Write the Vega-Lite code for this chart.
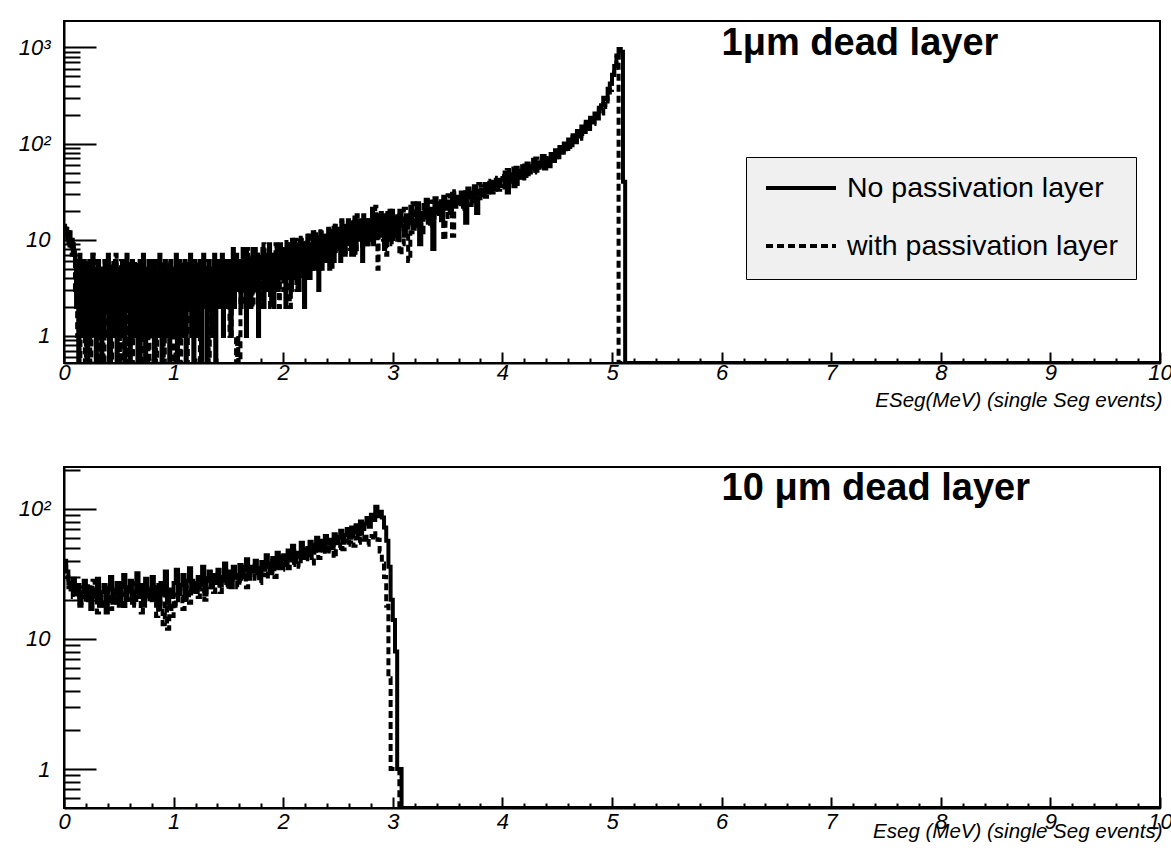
{
  "$schema": "https://vega.github.io/schema/vega-lite/v6.json",
  "autosize": {"type": "pad"},
  "padding": {"left": 17, "top": 20, "right": 0, "bottom": 0},
  "background": "white",
  "bounds": "flush",
  "spacing": 104,
  "config": {
    "font": "Liberation Sans",
    "view": {"stroke": "black", "strokeWidth": 2},
    "axis": {
      "grid": false,
      "domainColor": "black",
      "domainWidth": 2,
      "tickColor": "black",
      "tickWidth": 2,
      "labelColor": "black",
      "labelFont": "Liberation Sans",
      "labelFontSize": 22,
      "labelFontStyle": "italic",
      "labelFlush": false,
      "labelOverlap": false,
      "labelBound": false,
      "titleColor": "black",
      "titleFont": "Liberation Sans",
      "titleFontSize": 20.5,
      "titleFontStyle": "italic",
      "titleFontWeight": "normal"
    }
  },
  "datasets": {
    "thin": [
      {"e":0.005,"bare":14,"pass":12},{"e":0.015,"bare":12,"pass":13},{"e":0.025,"bare":13,"pass":11},{"e":0.035,"bare":11,"pass":9},{"e":0.045,"bare":10,"pass":12},{"e":0.055,"bare":12,"pass":8},{"e":0.065,"bare":9,"pass":10},{"e":0.075,"bare":10,"pass":7},{"e":0.085,"bare":8,"pass":9},{"e":0.095,"bare":7,"pass":8},
      {"e":0.105,"bare":6,"pass":3},{"e":0.115,"bare":2,"pass":6},{"e":0.125,"bare":5,"pass":1},{"e":0.135,"bare":0,"pass":4},{"e":0.145,"bare":7,"pass":0},{"e":0.155,"bare":3,"pass":5},{"e":0.165,"bare":4,"pass":2},{"e":0.175,"bare":1,"pass":6},{"e":0.185,"bare":6,"pass":3},{"e":0.195,"bare":2,"pass":0},
      {"e":0.205,"bare":5,"pass":4},{"e":0.215,"bare":0,"pass":6},{"e":0.225,"bare":3,"pass":2},{"e":0.235,"bare":6,"pass":5},{"e":0.245,"bare":1,"pass":0},{"e":0.255,"bare":4,"pass":3},{"e":0.265,"bare":7,"pass":7},{"e":0.275,"bare":2,"pass":1},{"e":0.285,"bare":5,"pass":4},{"e":0.295,"bare":0,"pass":2},
      {"e":0.305,"bare":3,"pass":6},{"e":0.315,"bare":6,"pass":0},{"e":0.325,"bare":2,"pass":4},{"e":0.335,"bare":4,"pass":1},{"e":0.345,"bare":0,"pass":5},{"e":0.355,"bare":5,"pass":3},{"e":0.365,"bare":1,"pass":0},{"e":0.375,"bare":6,"pass":6},{"e":0.385,"bare":3,"pass":2},{"e":0.395,"bare":2,"pass":4},
      {"e":0.405,"bare":7,"pass":1},{"e":0.415,"bare":0,"pass":5},{"e":0.425,"bare":4,"pass":3},{"e":0.435,"bare":2,"pass":0},{"e":0.445,"bare":5,"pass":6},{"e":0.455,"bare":1,"pass":2},{"e":0.465,"bare":3,"pass":4},{"e":0.475,"bare":6,"pass":7},{"e":0.485,"bare":0,"pass":1},{"e":0.495,"bare":4,"pass":3},
      {"e":0.505,"bare":2,"pass":5},{"e":0.515,"bare":5,"pass":0},{"e":0.525,"bare":1,"pass":6},{"e":0.535,"bare":6,"pass":2},{"e":0.545,"bare":3,"pass":4},{"e":0.555,"bare":0,"pass":1},{"e":0.565,"bare":4,"pass":5},{"e":0.575,"bare":7,"pass":3},{"e":0.585,"bare":2,"pass":0},{"e":0.595,"bare":5,"pass":6},
      {"e":0.605,"bare":0,"pass":4},{"e":0.615,"bare":3,"pass":2},{"e":0.625,"bare":6,"pass":0},{"e":0.635,"bare":1,"pass":5},{"e":0.645,"bare":4,"pass":3},{"e":0.655,"bare":2,"pass":6},{"e":0.665,"bare":5,"pass":1},{"e":0.675,"bare":0,"pass":4},{"e":0.685,"bare":3,"pass":2},{"e":0.695,"bare":6,"pass":5},
      {"e":0.705,"bare":1,"pass":0},{"e":0.715,"bare":4,"pass":6},{"e":0.725,"bare":7,"pass":3},{"e":0.735,"bare":2,"pass":1},{"e":0.745,"bare":0,"pass":5},{"e":0.755,"bare":5,"pass":2},{"e":0.765,"bare":3,"pass":4},{"e":0.775,"bare":6,"pass":0},{"e":0.785,"bare":1,"pass":6},{"e":0.795,"bare":4,"pass":3},
      {"e":0.805,"bare":2,"pass":5},{"e":0.815,"bare":6,"pass":1},{"e":0.825,"bare":0,"pass":4},{"e":0.835,"bare":3,"pass":6},{"e":0.845,"bare":5,"pass":0},{"e":0.855,"bare":1,"pass":3},{"e":0.865,"bare":4,"pass":5},{"e":0.875,"bare":7,"pass":2},{"e":0.885,"bare":2,"pass":4},{"e":0.895,"bare":0,"pass":1},
      {"e":0.905,"bare":5,"pass":6},{"e":0.915,"bare":3,"pass":0},{"e":0.925,"bare":6,"pass":3},{"e":0.935,"bare":1,"pass":5},{"e":0.945,"bare":4,"pass":2},{"e":0.955,"bare":2,"pass":4},{"e":0.965,"bare":0,"pass":6},{"e":0.975,"bare":6,"pass":1},{"e":0.985,"bare":3,"pass":3},{"e":0.995,"bare":5,"pass":0},
      {"e":1.005,"bare":1,"pass":5},{"e":1.015,"bare":4,"pass":2},{"e":1.025,"bare":7,"pass":4},{"e":1.035,"bare":0,"pass":6},{"e":1.045,"bare":3,"pass":1},{"e":1.055,"bare":6,"pass":3},{"e":1.065,"bare":2,"pass":0},{"e":1.075,"bare":5,"pass":5},{"e":1.085,"bare":1,"pass":2},{"e":1.095,"bare":4,"pass":6},
      {"e":1.105,"bare":6,"pass":3},{"e":1.115,"bare":0,"pass":5},{"e":1.125,"bare":3,"pass":0},{"e":1.135,"bare":5,"pass":4},{"e":1.145,"bare":2,"pass":6},{"e":1.155,"bare":7,"pass":2},{"e":1.165,"bare":1,"pass":3},{"e":1.175,"bare":4,"pass":1},{"e":1.185,"bare":0,"pass":5},{"e":1.195,"bare":6,"pass":4},
      {"e":1.205,"bare":3,"pass":6},{"e":1.215,"bare":5,"pass":1},{"e":1.225,"bare":1,"pass":3},{"e":1.235,"bare":4,"pass":5},{"e":1.245,"bare":6,"pass":0},{"e":1.255,"bare":0,"pass":4},{"e":1.265,"bare":2,"pass":2},{"e":1.275,"bare":7,"pass":6},{"e":1.285,"bare":3,"pass":3},{"e":1.295,"bare":5,"pass":5},
      {"e":1.305,"bare":0,"pass":2},{"e":1.315,"bare":4,"pass":6},{"e":1.325,"bare":6,"pass":0},{"e":1.335,"bare":2,"pass":4},{"e":1.345,"bare":5,"pass":3},{"e":1.355,"bare":1,"pass":5},{"e":1.365,"bare":3,"pass":1},{"e":1.375,"bare":7,"pass":6},{"e":1.385,"bare":0,"pass":4},{"e":1.395,"bare":4,"pass":2},
      {"e":1.405,"bare":6,"pass":5},{"e":1.415,"bare":2,"pass":3},{"e":1.425,"bare":5,"pass":4},{"e":1.435,"bare":3,"pass":3},{"e":1.445,"bare":7,"pass":3},{"e":1.455,"bare":1,"pass":2},{"e":1.465,"bare":4,"pass":3},{"e":1.475,"bare":6,"pass":2},{"e":1.485,"bare":2,"pass":2},{"e":1.495,"bare":5,"pass":2},
      {"e":1.505,"bare":3,"pass":2},{"e":1.515,"bare":6,"pass":1},{"e":1.525,"bare":1,"pass":2},{"e":1.535,"bare":5,"pass":1},{"e":1.545,"bare":8,"pass":1},{"e":1.555,"bare":2,"pass":1},{"e":1.565,"bare":4,"pass":1},{"e":1.575,"bare":7,"pass":0},{"e":1.585,"bare":3,"pass":1},{"e":1.595,"bare":5,"pass":0},
      {"e":1.605,"bare":6,"pass":0},{"e":1.615,"bare":2,"pass":4},{"e":1.625,"bare":4,"pass":6},{"e":1.635,"bare":8,"pass":3},{"e":1.645,"bare":3,"pass":7},{"e":1.655,"bare":5,"pass":2},{"e":1.665,"bare":1,"pass":5},{"e":1.675,"bare":7,"pass":8},{"e":1.685,"bare":4,"pass":4},{"e":1.695,"bare":6,"pass":6},
      {"e":1.705,"bare":2,"pass":3},{"e":1.715,"bare":5,"pass":7},{"e":1.725,"bare":8,"pass":2},{"e":1.735,"bare":3,"pass":5},{"e":1.745,"bare":6,"pass":8},{"e":1.755,"bare":4,"pass":4},{"e":1.765,"bare":7,"pass":6},{"e":1.775,"bare":1,"pass":3},{"e":1.785,"bare":5,"pass":7},{"e":1.795,"bare":6,"pass":2},
      {"e":1.805,"bare":4,"pass":6},{"e":1.815,"bare":8,"pass":4},{"e":1.825,"bare":2,"pass":9},{"e":1.835,"bare":6,"pass":5},{"e":1.845,"bare":3,"pass":3},{"e":1.855,"bare":7,"pass":7},{"e":1.865,"bare":5,"pass":4},{"e":1.875,"bare":9,"pass":8},{"e":1.885,"bare":3,"pass":2},{"e":1.895,"bare":6,"pass":6},
      {"e":1.905,"bare":5,"pass":7},{"e":1.915,"bare":2,"pass":3},{"e":1.925,"bare":7,"pass":5},{"e":1.935,"bare":4,"pass":9},{"e":1.945,"bare":8,"pass":4},{"e":1.955,"bare":3,"pass":6},{"e":1.965,"bare":6,"pass":2},{"e":1.975,"bare":9,"pass":8},{"e":1.985,"bare":4,"pass":5},{"e":1.995,"bare":6,"pass":7},
      {"e":2.005,"bare":5,"pass":3},{"e":2.015,"bare":8,"pass":7},{"e":2.025,"bare":2,"pass":5},{"e":2.035,"bare":6,"pass":10},{"e":2.045,"bare":9,"pass":4},{"e":2.055,"bare":4,"pass":6},{"e":2.065,"bare":7,"pass":2},{"e":2.075,"bare":3,"pass":8},{"e":2.085,"bare":10,"pass":5},{"e":2.095,"bare":5,"pass":9},
      {"e":2.105,"bare":7,"pass":6},{"e":2.115,"bare":4,"pass":10},{"e":2.125,"bare":9,"pass":3},{"e":2.135,"bare":6,"pass":8},{"e":2.145,"bare":3,"pass":5},{"e":2.155,"bare":8,"pass":11},{"e":2.165,"bare":10,"pass":7},{"e":2.175,"bare":5,"pass":4},{"e":2.185,"bare":7,"pass":9},{"e":2.195,"bare":2,"pass":6},
      {"e":2.205,"bare":8,"pass":10},{"e":2.215,"bare":5,"pass":6},{"e":2.225,"bare":11,"pass":4},{"e":2.235,"bare":6,"pass":12},{"e":2.245,"bare":4,"pass":7},{"e":2.255,"bare":9,"pass":9},{"e":2.265,"bare":7,"pass":5},{"e":2.275,"bare":12,"pass":11},{"e":2.285,"bare":5,"pass":8},{"e":2.295,"bare":8,"pass":6},
      {"e":2.305,"bare":6,"pass":12},{"e":2.315,"bare":10,"pass":7},{"e":2.325,"bare":3,"pass":10},{"e":2.335,"bare":8,"pass":5},{"e":2.345,"bare":12,"pass":13},{"e":2.355,"bare":5,"pass":8},{"e":2.365,"bare":9,"pass":6},{"e":2.375,"bare":7,"pass":11},{"e":2.385,"bare":11,"pass":9},{"e":2.395,"bare":6,"pass":7},
      {"e":2.405,"bare":8,"pass":10},{"e":2.415,"bare":13,"pass":6},{"e":2.425,"bare":5,"pass":12},{"e":2.435,"bare":10,"pass":8},{"e":2.445,"bare":7,"pass":5},{"e":2.455,"bare":11,"pass":14},{"e":2.465,"bare":6,"pass":9},{"e":2.475,"bare":14,"pass":7},{"e":2.485,"bare":8,"pass":12},{"e":2.495,"bare":10,"pass":8},
      {"e":2.505,"bare":9,"pass":13},{"e":2.515,"bare":12,"pass":8},{"e":2.525,"bare":6,"pass":11},{"e":2.535,"bare":15,"pass":16},{"e":2.545,"bare":8,"pass":9},{"e":2.555,"bare":11,"pass":12},{"e":2.565,"bare":7,"pass":7},{"e":2.575,"bare":13,"pass":14},{"e":2.585,"bare":10,"pass":10},{"e":2.595,"bare":16,"pass":13},
      {"e":2.605,"bare":9,"pass":13},{"e":2.615,"bare":15,"pass":8},{"e":2.625,"bare":7,"pass":11},{"e":2.635,"bare":12,"pass":16},{"e":2.645,"bare":10,"pass":9},{"e":2.655,"bare":17,"pass":12},{"e":2.665,"bare":8,"pass":7},{"e":2.675,"bare":13,"pass":18},{"e":2.685,"bare":11,"pass":10},{"e":2.695,"bare":16,"pass":14},
      {"e":2.705,"bare":10,"pass":11},{"e":2.715,"bare":14,"pass":15},{"e":2.725,"bare":6,"pass":8},{"e":2.735,"bare":18,"pass":13},{"e":2.745,"bare":11,"pass":17},{"e":2.755,"bare":13,"pass":10},{"e":2.765,"bare":9,"pass":14},{"e":2.775,"bare":16,"pass":9},{"e":2.785,"bare":12,"pass":16},{"e":2.795,"bare":15,"pass":12},
      {"e":2.805,"bare":10,"pass":12},{"e":2.815,"bare":21,"pass":9},{"e":2.825,"bare":9,"pass":16},{"e":2.835,"bare":14,"pass":11},{"e":2.845,"bare":12,"pass":22},{"e":2.855,"bare":18,"pass":13},{"e":2.865,"bare":11,"pass":5},{"e":2.875,"bare":15,"pass":17},{"e":2.885,"bare":13,"pass":12},{"e":2.895,"bare":19,"pass":15},
      {"e":2.905,"bare":11,"pass":14},{"e":2.915,"bare":17,"pass":10},{"e":2.925,"bare":8,"pass":18},{"e":2.935,"bare":15,"pass":12},{"e":2.945,"bare":13,"pass":7},{"e":2.955,"bare":19,"pass":16},{"e":2.965,"bare":10,"pass":11},{"e":2.975,"bare":16,"pass":20},{"e":2.985,"bare":12,"pass":13},{"e":2.995,"bare":20,"pass":9},
      {"e":3.01,"bare":12,"pass":16},{"e":3.03,"bare":17,"pass":11},{"e":3.05,"bare":10,"pass":19},{"e":3.07,"bare":20,"pass":7},{"e":3.09,"bare":14,"pass":9},
      {"e":3.11,"bare":11,"pass":21},{"e":3.13,"bare":18,"pass":14},{"e":3.15,"bare":15,"pass":6},{"e":3.17,"bare":22,"pass":12},{"e":3.19,"bare":13,"pass":24},
      {"e":3.21,"bare":16,"pass":13},{"e":3.23,"bare":24,"pass":20},{"e":3.25,"bare":9,"pass":16},{"e":3.27,"bare":19,"pass":12},{"e":3.29,"bare":17,"pass":23},
      {"e":3.31,"bare":26,"pass":18},{"e":3.33,"bare":15,"pass":14},{"e":3.35,"bare":21,"pass":25},{"e":3.37,"bare":8,"pass":17},{"e":3.39,"bare":27,"pass":20},
      {"e":3.41,"bare":19,"pass":23},{"e":3.43,"bare":24,"pass":17},{"e":3.45,"bare":16,"pass":27},{"e":3.47,"bare":28,"pass":10},{"e":3.49,"bare":21,"pass":15},
      {"e":3.51,"bare":25,"pass":29},{"e":3.53,"bare":19,"pass":22},{"e":3.55,"bare":30,"pass":11},{"e":3.57,"bare":22,"pass":32},{"e":3.59,"bare":27,"pass":24},
      {"e":3.61,"bare":24,"pass":28},{"e":3.63,"bare":31,"pass":21},{"e":3.65,"bare":26,"pass":33},{"e":3.67,"bare":15,"pass":25},{"e":3.69,"bare":34,"pass":30},
      {"e":3.71,"bare":28,"pass":23},{"e":3.73,"bare":25,"pass":35},{"e":3.75,"bare":36,"pass":29},{"e":3.77,"bare":19,"pass":26},{"e":3.79,"bare":27,"pass":38},
      {"e":3.81,"bare":33,"pass":30},{"e":3.83,"bare":29,"pass":36},{"e":3.85,"bare":38,"pass":28},{"e":3.87,"bare":31,"pass":41},{"e":3.89,"bare":35,"pass":34},
      {"e":3.91,"bare":40,"pass":31},{"e":3.93,"bare":33,"pass":44},{"e":3.95,"bare":37,"pass":37},{"e":3.97,"bare":42,"pass":33},{"e":3.99,"bare":36,"pass":46},
      {"e":4.01,"bare":36,"pass":42},{"e":4.03,"bare":50,"pass":35},{"e":4.05,"bare":31,"pass":53},{"e":4.07,"bare":47,"pass":41},{"e":4.09,"bare":40,"pass":48},
      {"e":4.11,"bare":55,"pass":36},{"e":4.13,"bare":38,"pass":56},{"e":4.15,"bare":52,"pass":45},{"e":4.17,"bare":44,"pass":50},{"e":4.19,"bare":58,"pass":41},
      {"e":4.21,"bare":46,"pass":59},{"e":4.23,"bare":62,"pass":48},{"e":4.25,"bare":50,"pass":55},{"e":4.27,"bare":57,"pass":63},{"e":4.29,"bare":68,"pass":50},
      {"e":4.31,"bare":52,"pass":70},{"e":4.33,"bare":64,"pass":56},{"e":4.35,"bare":58,"pass":61},{"e":4.37,"bare":74,"pass":66},{"e":4.39,"bare":60,"pass":55},
      {"e":4.41,"bare":70,"pass":74},{"e":4.43,"bare":58,"pass":62},{"e":4.45,"bare":78,"pass":70},{"e":4.47,"bare":66,"pass":81},{"e":4.49,"bare":85,"pass":68},
      {"e":4.51,"bare":72,"pass":88},{"e":4.53,"bare":92,"pass":76},{"e":4.55,"bare":80,"pass":84},{"e":4.57,"bare":100,"pass":95},{"e":4.59,"bare":88,"pass":82},
      {"e":4.61,"bare":110,"pass":104},{"e":4.63,"bare":96,"pass":92},{"e":4.65,"bare":122,"pass":116},{"e":4.67,"bare":108,"pass":103},{"e":4.69,"bare":135,"pass":128},
      {"e":4.71,"bare":120,"pass":112},{"e":4.73,"bare":150,"pass":140},{"e":4.75,"bare":132,"pass":126},{"e":4.77,"bare":168,"pass":158},{"e":4.79,"bare":150,"pass":142},
      {"e":4.81,"bare":185,"pass":176},{"e":4.83,"bare":165,"pass":160},{"e":4.85,"bare":205,"pass":198},{"e":4.87,"bare":190,"pass":182},{"e":4.89,"bare":235,"pass":226},
      {"e":4.91,"bare":250,"pass":205},{"e":4.93,"bare":300,"pass":258},{"e":4.95,"bare":290,"pass":240},{"e":4.97,"bare":370,"pass":310},{"e":4.99,"bare":420,"pass":360},
      {"e":5.01,"bare":520,"pass":480},{"e":5.03,"bare":640,"pass":610},{"e":5.05,"bare":780,"pass":820},{"e":5.07,"bare":960,"pass":0},{"e":5.09,"bare":900,"pass":0},
      {"e":5.11,"bare":40,"pass":0},{"e":5.13,"bare":0,"pass":0},{"e":5.15,"bare":0,"pass":0},
      {"e":9.99,"bare":0,"pass":0}
    ],
    "thick": [
      {"e":0.01,"bare":40,"pass":36},{"e":0.03,"bare":33,"pass":30},{"e":0.05,"bare":27,"pass":25},{"e":0.07,"bare":24,"pass":28},{"e":0.09,"bare":29,"pass":21},
      {"e":0.11,"bare":22,"pass":26},{"e":0.13,"bare":26,"pass":23},{"e":0.15,"bare":19,"pass":18},{"e":0.17,"bare":23,"pass":25},{"e":0.19,"bare":28,"pass":21},
      {"e":0.21,"bare":20,"pass":27},{"e":0.23,"bare":25,"pass":19},{"e":0.25,"bare":17,"pass":23},{"e":0.27,"bare":24,"pass":28},{"e":0.29,"bare":21,"pass":20},
      {"e":0.31,"bare":29,"pass":16},{"e":0.33,"bare":18,"pass":24},{"e":0.35,"bare":23,"pass":21},{"e":0.37,"bare":26,"pass":18},{"e":0.39,"bare":16,"pass":26},
      {"e":0.41,"bare":24,"pass":21},{"e":0.43,"bare":30,"pass":17},{"e":0.45,"bare":19,"pass":26},{"e":0.47,"bare":22,"pass":23},{"e":0.49,"bare":27,"pass":19},
      {"e":0.51,"bare":18,"pass":28},{"e":0.53,"bare":25,"pass":22},{"e":0.55,"bare":31,"pass":17},{"e":0.57,"bare":20,"pass":25},{"e":0.59,"bare":24,"pass":20},
      {"e":0.61,"bare":28,"pass":23},{"e":0.63,"bare":19,"pass":27},{"e":0.65,"bare":23,"pass":18},{"e":0.67,"bare":32,"pass":25},{"e":0.69,"bare":21,"pass":21},
      {"e":0.71,"bare":26,"pass":16},{"e":0.73,"bare":18,"pass":27},{"e":0.75,"bare":29,"pass":20},{"e":0.77,"bare":24,"pass":23},{"e":0.79,"bare":22,"pass":19},
      {"e":0.81,"bare":30,"pass":25},{"e":0.83,"bare":20,"pass":22},{"e":0.85,"bare":25,"pass":15},{"e":0.87,"bare":17,"pass":26},{"e":0.89,"bare":27,"pass":18},
      {"e":0.91,"bare":22,"pass":13},{"e":0.93,"bare":33,"pass":21},{"e":0.95,"bare":19,"pass":12},{"e":0.97,"bare":24,"pass":19},{"e":0.99,"bare":21,"pass":15},
      {"e":1.01,"bare":27,"pass":22},{"e":1.03,"bare":34,"pass":18},{"e":1.05,"bare":22,"pass":26},{"e":1.07,"bare":26,"pass":21},{"e":1.09,"bare":31,"pass":17},
      {"e":1.11,"bare":20,"pass":25},{"e":1.13,"bare":28,"pass":23},{"e":1.15,"bare":35,"pass":19},{"e":1.17,"bare":24,"pass":28},{"e":1.19,"bare":27,"pass":22},
      {"e":1.21,"bare":23,"pass":26},{"e":1.23,"bare":30,"pass":21},{"e":1.25,"bare":26,"pass":29},{"e":1.27,"bare":36,"pass":24},{"e":1.29,"bare":22,"pass":20},
      {"e":1.31,"bare":29,"pass":31},{"e":1.33,"bare":33,"pass":25},{"e":1.35,"bare":25,"pass":28},{"e":1.37,"bare":31,"pass":23},{"e":1.39,"bare":27,"pass":32},
      {"e":1.41,"bare":34,"pass":27},{"e":1.43,"bare":26,"pass":23},{"e":1.45,"bare":30,"pass":31},{"e":1.47,"bare":38,"pass":26},{"e":1.49,"bare":28,"pass":35},
      {"e":1.51,"bare":33,"pass":24},{"e":1.53,"bare":25,"pass":29},{"e":1.55,"bare":36,"pass":33},{"e":1.57,"bare":31,"pass":27},{"e":1.59,"bare":29,"pass":25},
      {"e":1.61,"bare":37,"pass":31},{"e":1.63,"bare":30,"pass":28},{"e":1.65,"bare":34,"pass":36},{"e":1.67,"bare":41,"pass":25},{"e":1.69,"bare":29,"pass":33},
      {"e":1.71,"bare":36,"pass":30},{"e":1.73,"bare":33,"pass":38},{"e":1.75,"bare":40,"pass":29},{"e":1.77,"bare":35,"pass":34},{"e":1.79,"bare":31,"pass":27},
      {"e":1.81,"bare":39,"pass":35},{"e":1.83,"bare":34,"pass":31},{"e":1.85,"bare":44,"pass":29},{"e":1.87,"bare":36,"pass":38},{"e":1.89,"bare":32,"pass":33},
      {"e":1.91,"bare":42,"pass":40},{"e":1.93,"bare":38,"pass":30},{"e":1.95,"bare":46,"pass":36},{"e":1.97,"bare":35,"pass":43},{"e":1.99,"bare":41,"pass":34},
      {"e":2.01,"bare":44,"pass":38},{"e":2.03,"bare":37,"pass":45},{"e":2.05,"bare":48,"pass":35},{"e":2.07,"bare":41,"pass":41},{"e":2.09,"bare":52,"pass":37},
      {"e":2.11,"bare":39,"pass":49},{"e":2.13,"bare":46,"pass":40},{"e":2.15,"bare":43,"pass":36},{"e":2.17,"bare":55,"pass":46},{"e":2.19,"bare":42,"pass":43},
      {"e":2.21,"bare":49,"pass":41},{"e":2.23,"bare":45,"pass":50},{"e":2.25,"bare":56,"pass":44},{"e":2.27,"bare":47,"pass":38},{"e":2.29,"bare":53,"pass":52},
      {"e":2.31,"bare":60,"pass":46},{"e":2.33,"bare":48,"pass":42},{"e":2.35,"bare":55,"pass":57},{"e":2.37,"bare":51,"pass":48},{"e":2.39,"bare":62,"pass":45},
      {"e":2.41,"bare":54,"pass":53},{"e":2.43,"bare":58,"pass":47},{"e":2.45,"bare":50,"pass":58},{"e":2.47,"bare":64,"pass":42},{"e":2.49,"bare":57,"pass":55},
      {"e":2.51,"bare":61,"pass":50},{"e":2.53,"bare":68,"pass":60},{"e":2.55,"bare":55,"pass":49},{"e":2.57,"bare":63,"pass":57},{"e":2.59,"bare":70,"pass":53},
      {"e":2.61,"bare":60,"pass":56},{"e":2.63,"bare":72,"pass":63},{"e":2.65,"bare":66,"pass":52},{"e":2.67,"bare":75,"pass":60},{"e":2.69,"bare":64,"pass":55},
      {"e":2.71,"bare":80,"pass":67},{"e":2.73,"bare":70,"pass":58},{"e":2.75,"bare":77,"pass":64},{"e":2.77,"bare":85,"pass":53},{"e":2.79,"bare":73,"pass":62},
      {"e":2.81,"bare":90,"pass":62},{"e":2.83,"bare":82,"pass":58},{"e":2.85,"bare":104,"pass":65},{"e":2.87,"bare":88,"pass":58},{"e":2.89,"bare":95,"pass":47},
      {"e":2.91,"bare":86,"pass":38},{"e":2.93,"bare":72,"pass":30},{"e":2.95,"bare":57,"pass":18},{"e":2.97,"bare":36,"pass":5},{"e":2.99,"bare":20,"pass":1},
      {"e":3.01,"bare":14,"pass":1},{"e":3.03,"bare":8,"pass":1},{"e":3.05,"bare":1,"pass":1},{"e":3.07,"bare":1,"pass":0},{"e":3.09,"bare":0,"pass":0},
      {"e":9.99,"bare":0,"pass":0}
    ]
  },
  "vconcat": [
    {
      "width": 1096,
      "height": 342,
      "layer": [
        {
          "data": {"name": "thin"},
          "transform": [{"fold": ["bare", "pass"], "as": ["series", "n"]}],
          "mark": {"type": "line", "interpolate": "step", "strokeWidth": 4, "color": "black", "clip": true},
          "encoding": {
            "x": {
              "field": "e", "type": "quantitative",
              "scale": {"domain": [0, 10], "nice": false, "zero": false},
              "axis": {
                "values": [0,0.2,0.4,0.6,0.8,1,1.2,1.4,1.6,1.8,2,2.2,2.4,2.6,2.8,3,3.2,3.4,3.6,3.8,4,4.2,4.4,4.6,4.8,5,5.2,5.4,5.6,5.8,6,6.2,6.4,6.6,6.8,7,7.2,7.4,7.6,7.8,8,8.2,8.4,8.6,8.8,9,9.2,9.4,9.6,9.8,10],
                "labelExpr": "datum.value % 1 == 0 ? format(datum.value, 'd') : ''",
                "tickSize": {"condition": {"test": "datum.value % 1 == 0", "value": -11}, "value": -5},
                "labelPadding": 10,
                "labelBaseline": "top",
                "title": "ESeg(MeV) (single Seg events)",
                "titleAlign": "right",
                "titleBaseline": "alphabetic",
                "titleX": 1098,
                "titleY": 43
              }
            },
            "y": {
              "field": "n", "type": "quantitative",
              "scale": {"type": "log", "domain": [0.524, 1877], "nice": false, "clamp": true},
              "axis": {
                "values": [0.6,0.7,0.8,0.9,1,2,3,4,5,6,7,8,9,10,20,30,40,50,60,70,80,90,100,200,300,400,500,600,700,800,900,1000],
                "labelExpr": "datum.value == 1000 ? '10³' : datum.value == 100 ? '10²' : datum.value == 10 ? '10' : datum.value == 1 ? '1' : ''",
                "tickSize": {"condition": {"test": "indexof([1, 10, 100, 1000], datum.value) >= 0", "value": -32}, "value": -16},
                "labelPadding": 46,
                "labelBaseline": "middle",
                "title": null
              }
            },
            "strokeDash": {
              "field": "series", "type": "nominal",
              "scale": {"domain": ["bare", "pass"], "range": [[1, 0], [7, 4]]},
              "legend": {
                "title": null,
                "orient": "none",
                "legendX": 682,
                "legendY": 136,
                "labelExpr": "datum.label == 'bare' ? 'No passivation layer' : 'with passivation layer'",
                "symbolType": "stroke",
                "symbolSize": 4900,
                "symbolStrokeWidth": 4,
                "symbolStrokeColor": "black",
                "labelFont": "Liberation Sans",
                "labelFontSize": 28.5,
                "labelColor": "black",
                "labelLimit": 500,
                "labelOffset": 9,
                "padding": 18,
                "rowPadding": 29,
                "clipHeight": 26,
                "fillColor": "#f0f0f0",
                "strokeColor": "black"
              }
            }
          }
        },
        {
          "data": {"values": [{"label": "1μm dead layer"}]},
          "mark": {"type": "text", "align": "left", "baseline": "alphabetic", "font": "Liberation Sans", "fontSize": 38, "fontWeight": "bold", "color": "black"},
          "encoding": {
            "x": {
              "datum": 6, "type": "quantitative",
              "axis": {
                "values": [0,0.2,0.4,0.6,0.8,1,1.2,1.4,1.6,1.8,2,2.2,2.4,2.6,2.8,3,3.2,3.4,3.6,3.8,4,4.2,4.4,4.6,4.8,5,5.2,5.4,5.6,5.8,6,6.2,6.4,6.6,6.8,7,7.2,7.4,7.6,7.8,8,8.2,8.4,8.6,8.8,9,9.2,9.4,9.6,9.8,10],
                "labelExpr": "datum.value % 1 == 0 ? format(datum.value, 'd') : ''",
                "tickSize": {"condition": {"test": "datum.value % 1 == 0", "value": -11}, "value": -5},
                "labelPadding": 10,
                "labelBaseline": "top",
                "title": "ESeg(MeV) (single Seg events)",
                "titleAlign": "right",
                "titleBaseline": "alphabetic",
                "titleX": 1098,
                "titleY": 43
              }
            },
            "y": {
              "datum": 832, "type": "quantitative",
              "axis": {
                "values": [0.6,0.7,0.8,0.9,1,2,3,4,5,6,7,8,9,10,20,30,40,50,60,70,80,90,100,200,300,400,500,600,700,800,900,1000],
                "labelExpr": "datum.value == 1000 ? '10³' : datum.value == 100 ? '10²' : datum.value == 10 ? '10' : datum.value == 1 ? '1' : ''",
                "tickSize": {"condition": {"test": "indexof([1, 10, 100, 1000], datum.value) >= 0", "value": -32}, "value": -16},
                "labelPadding": 46,
                "labelBaseline": "middle",
                "title": null
              }
            },
            "text": {"field": "label"}
          }
        }
      ]
    },
    {
      "width": 1096,
      "height": 341,
      "layer": [
        {
          "data": {"name": "thick"},
          "transform": [{"fold": ["bare", "pass"], "as": ["series", "n"]}],
          "mark": {"type": "line", "interpolate": "step", "strokeWidth": 4, "color": "black", "clip": true},
          "encoding": {
            "x": {
              "field": "e", "type": "quantitative",
              "scale": {"domain": [0, 10], "nice": false, "zero": false},
              "axis": {
                "values": [0,0.2,0.4,0.6,0.8,1,1.2,1.4,1.6,1.8,2,2.2,2.4,2.6,2.8,3,3.2,3.4,3.6,3.8,4,4.2,4.4,4.6,4.8,5,5.2,5.4,5.6,5.8,6,6.2,6.4,6.6,6.8,7,7.2,7.4,7.6,7.8,8,8.2,8.4,8.6,8.8,9,9.2,9.4,9.6,9.8,10],
                "labelExpr": "datum.value % 1 == 0 ? format(datum.value, 'd') : ''",
                "tickSize": {"condition": {"test": "datum.value % 1 == 0", "value": -11}, "value": -5},
                "labelPadding": 14,
                "labelBaseline": "top",
                "title": "Eseg (MeV) (single Seg events)",
                "titleAlign": "right",
                "titleBaseline": "alphabetic",
                "titleX": 1098,
                "titleY": 29
              }
            },
            "y": {
              "field": "n", "type": "quantitative",
              "scale": {"type": "log", "domain": [0.502, 210], "nice": false, "clamp": true},
              "axis": {
                "values": [0.6,0.7,0.8,0.9,1,2,3,4,5,6,7,8,9,10,20,30,40,50,60,70,80,90,100,200],
                "labelExpr": "datum.value == 100 ? '10²' : datum.value == 10 ? '10' : datum.value == 1 ? '1' : ''",
                "tickSize": {"condition": {"test": "indexof([1, 10, 100], datum.value) >= 0", "value": -32}, "value": -16},
                "labelPadding": 46,
                "labelBaseline": "middle",
                "title": null
              }
            },
            "strokeDash": {
              "field": "series", "type": "nominal",
              "scale": {"domain": ["bare", "pass"], "range": [[1, 0], [7, 4]]},
              "legend": null
            }
          }
        },
        {
          "data": {"values": [{"label": "10 μm dead layer"}]},
          "mark": {"type": "text", "align": "left", "baseline": "alphabetic", "font": "Liberation Sans", "fontSize": 38, "fontWeight": "bold", "color": "black"},
          "encoding": {
            "x": {
              "datum": 6, "type": "quantitative",
              "axis": {
                "values": [0,0.2,0.4,0.6,0.8,1,1.2,1.4,1.6,1.8,2,2.2,2.4,2.6,2.8,3,3.2,3.4,3.6,3.8,4,4.2,4.4,4.6,4.8,5,5.2,5.4,5.6,5.8,6,6.2,6.4,6.6,6.8,7,7.2,7.4,7.6,7.8,8,8.2,8.4,8.6,8.8,9,9.2,9.4,9.6,9.8,10],
                "labelExpr": "datum.value % 1 == 0 ? format(datum.value, 'd') : ''",
                "tickSize": {"condition": {"test": "datum.value % 1 == 0", "value": -11}, "value": -5},
                "labelPadding": 14,
                "labelBaseline": "top",
                "title": "Eseg (MeV) (single Seg events)",
                "titleAlign": "right",
                "titleBaseline": "alphabetic",
                "titleX": 1098,
                "titleY": 29
              }
            },
            "y": {
              "datum": 117, "type": "quantitative",
              "axis": {
                "values": [0.6,0.7,0.8,0.9,1,2,3,4,5,6,7,8,9,10,20,30,40,50,60,70,80,90,100,200],
                "labelExpr": "datum.value == 100 ? '10²' : datum.value == 10 ? '10' : datum.value == 1 ? '1' : ''",
                "tickSize": {"condition": {"test": "indexof([1, 10, 100], datum.value) >= 0", "value": -32}, "value": -16},
                "labelPadding": 46,
                "labelBaseline": "middle",
                "title": null
              }
            },
            "text": {"field": "label"}
          }
        }
      ]
    }
  ]
}
